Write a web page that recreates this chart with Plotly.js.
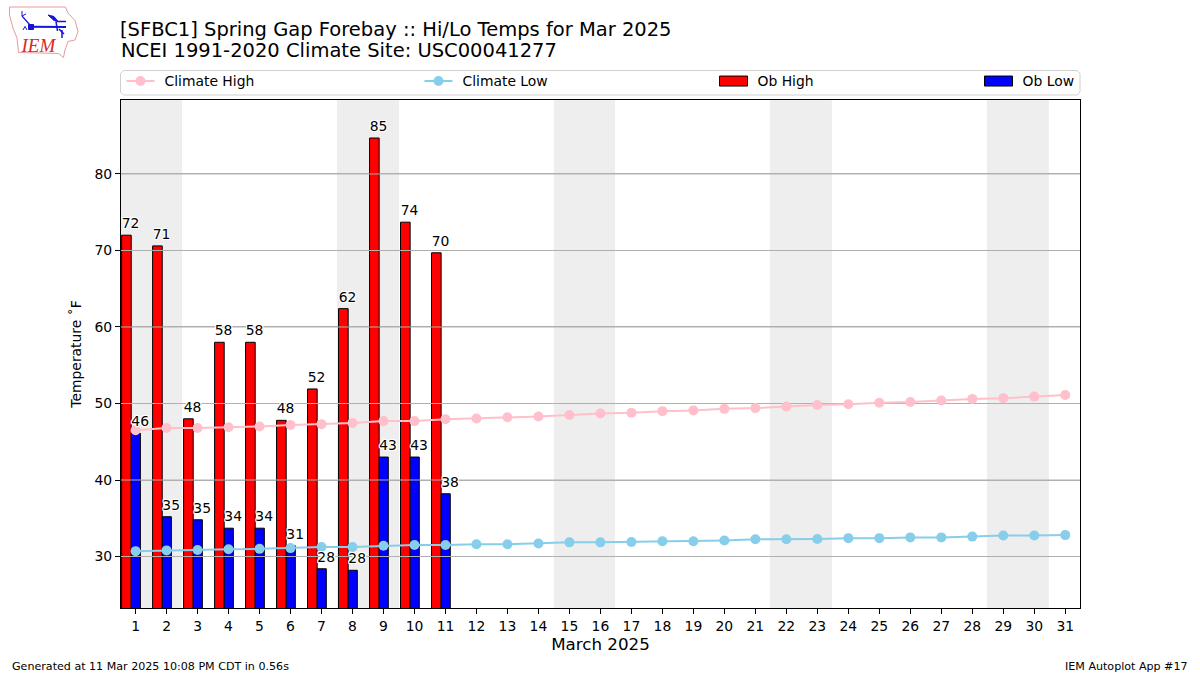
<!DOCTYPE html>
<html>
<head>
<meta charset="utf-8">
<script src="https://cdn.plot.ly/plotly-3.0.1.min.js"></script>
<style>html,body{margin:0;padding:0;background:#fff}</style>
</head>
<body>
<div id="chart" style="width:1200px;height:675px"></div>
<script>
const days = [1,2,3,4,5,6,7,8,9,10,11,12,13,14,15,16,17,18,19,20,21,22,23,24,25,26,27,28,29,30,31];
const climateHigh = [46.5,46.8,46.8,46.9,47.0,47.2,47.3,47.45,47.7,47.7,47.95,48.05,48.2,48.3,48.5,48.7,48.8,49.0,49.1,49.3,49.4,49.6,49.8,49.9,50.1,50.2,50.4,50.6,50.7,50.9,51.1];
const climateLow = [30.7,30.8,30.85,30.95,31.0,31.1,31.25,31.25,31.4,31.5,31.5,31.6,31.6,31.7,31.85,31.85,31.9,32.0,32.0,32.1,32.25,32.25,32.3,32.4,32.4,32.5,32.5,32.6,32.75,32.75,32.8];
const obDays = [1,2,3,4,5,6,7,8,9,10,11];
const obHigh = [72.0,70.6,48.0,58.0,58.0,47.8,51.9,62.4,84.7,73.7,69.7];
const obLow = [46.1,35.2,34.8,33.7,33.7,31.4,28.4,28.2,43.0,43.0,38.2];
const obHighLabels = ["72","71","48","58","58","48","52","62","85","74","70"];
const obLowLabels = ["46","35","35","34","34","31","28","28","43","43","38"];
const weekendSpans = [[0.5,2.5],[7.5,9.5],[14.5,16.47],[21.47,23.47],[28.47,30.47]];
const yTicks = [30,40,50,60,70,80];
const xRange = [0.53,31.475];
const yRange = [23.27,89.67];

const W=1200,H=675,L=121,R=1080,T=100,B=608;
const px=x=>(x-L)/(R-L), py=y=>(B-y)/(B-T);
const FONT='"DejaVu Sans", sans-serif';

function pathOf(pts,close){
  return pts.map((p,i)=>(i?'L':'M')+px(p[0]).toFixed(5)+','+py(p[1]).toFixed(5)).join(' ')+(close?' Z':'');
}
function logoLine(pts,color,w,fill){
  return {type:'path',xref:'paper',yref:'paper',path:pathOf(pts,!!fill),layer:'above',
    line:{color:color,width:w},fillcolor:fill||'rgba(0,0,0,0)'};
}

const gridX=[],gridY=[];
yTicks.forEach(v=>{gridX.push(xRange[0],xRange[1],null);gridY.push(v,v,null);});

const halo='1px 0 0 #fff,-1px 0 0 #fff,0 1px 0 #fff,0 -1px 0 #fff,1px 1px 0 #fff,-1px -1px 0 #fff,1px -1px 0 #fff,-1px 1px 0 #fff';

const traces=[
 {type:'bar',name:'Ob High',x:obDays,y:obHigh,width:0.31,offset:-0.45,legend:'legend3',
  marker:{color:'#ff0000',line:{color:'#000',width:1}}},
 {type:'bar',name:'Ob Low',x:obDays,y:obLow,width:0.295,offset:-0.14,legend:'legend4',
  marker:{color:'#0000ff',line:{color:'#000',width:1}}},
 {type:'scatter',mode:'lines',x:gridX,y:gridY,showlegend:false,hoverinfo:'skip',
  line:{color:'#b0b0b0',width:1}},
 {type:'scatter',mode:'lines+markers',name:'Climate High',x:days,y:climateHigh,legend:'legend',
  line:{color:'#FFC0CB',width:2},marker:{color:'#FFC0CB',size:10}},
 {type:'scatter',mode:'lines+markers',name:'Climate Low',x:days,y:climateLow,legend:'legend2',
  line:{color:'#87CEEB',width:2},marker:{color:'#87CEEB',size:10}},
 {type:'scatter',mode:'markers+text',x:obDays.map(d=>d-0.16),y:obHigh,text:obHighLabels,textposition:'top center',
  marker:{size:4,opacity:0},showlegend:false,hoverinfo:'skip',cliponaxis:false,textfont:{family:FONT,size:13.9,color:'#000',shadow:halo}},
 {type:'scatter',mode:'markers+text',x:obDays.map(d=>d+0.15),y:obLow,text:obLowLabels,textposition:'top center',
  marker:{size:4,opacity:0},showlegend:false,hoverinfo:'skip',cliponaxis:false,textfont:{family:FONT,size:13.9,color:'#000',shadow:halo}}
];

const shapes=weekendSpans.map(s=>({type:'rect',xref:'x',yref:'paper',x0:s[0],x1:s[1],y0:0,y1:1,
  layer:'below',fillcolor:'#eeeeee',line:{width:0}}));
// legend frame
const r=3,fx0=120.5,fx1=1080,fy0=70.5,fy1=95;
shapes.push({type:'path',xref:'paper',yref:'paper',layer:'above',line:{color:'#d0d0d0',width:1},fillcolor:'rgba(0,0,0,0)',
  path:pathOf([[fx0+r,fy0],[fx1-r,fy0],[fx1,fy0+r],[fx1,fy1-r],[fx1-r,fy1],[fx0+r,fy1],[fx0,fy1-r],[fx0,fy0+r]],true)});
// logo
shapes.push(logoLine([[9.5,7],[65.5,7],[68,13],[75,20.5],[78,31.5],[75,40],[68,41.5],[65,50],[63.5,57.5],[58.5,53.5],[18.5,52.5],[17,38],[13,28],[9.5,15]],'#e89a9a',1,'#ffffff'));
shapes.push(logoLine([[31,26.7],[66,27]],'#1414d8',2));
shapes.push(logoLine([[28.5,24.5],[33.5,24.5],[33.5,29.5],[28.5,29.5]],'#1414d8',1,'#1414d8'));
shapes.push(logoLine([[48,15],[54,16.5],[58,21.5],[54,20.5]],'#1414d8',1,'#1414d8'));
shapes.push(logoLine([[57,21.5],[66,21.5]],'#1414d8',1.5));
shapes.push(logoLine([[56,21.5],[57.5,31]],'#1414d8',1.5));
shapes.push(logoLine([[59,29],[64,34]],'#1414d8',1.5));
shapes.push(logoLine([[62,30],[62,38]],'#1414d8',1.5));
shapes.push(logoLine([[22,16],[30,25]],'#1414d8',1.2));
shapes.push(logoLine([[22,11],[22,16],[26,14]],'#1414d8',1));
shapes.push(logoLine([[23,30],[25,26.5],[27,30]],'#1414d8',1));

const legendCommon=(x)=>({orientation:'v',x:px(x),y:py(81.5),xanchor:'left',yanchor:'middle',
  bgcolor:'rgba(0,0,0,0)',borderwidth:0,itemwidth:38,itemclick:false,itemdoubleclick:false,
  font:{family:FONT,size:13.9,color:'#000'}});

const layout={
 width:W,height:H,autosize:false,paper_bgcolor:'#fff',plot_bgcolor:'#fff',barmode:'overlay',
 margin:{l:L,r:W-R,t:T,b:H-B,pad:0},font:{family:FONT,size:13.9,color:'#000'},
 title:{text:'[SFBC1] Spring Gap Forebay :: Hi/Lo Temps for Mar 2025',
  x:120/W,xanchor:'left',xref:'container',y:1-29/H,yref:'container',yanchor:'middle',font:{family:FONT,size:19.5,color:'#000'}},
 xaxis:{type:'linear',range:xRange,tickmode:'array',tickvals:days,ticktext:days.map(String),ticks:'outside',ticklen:5,tickwidth:1,
  tickcolor:'#000',showline:true,linecolor:'#000',linewidth:1,mirror:true,showgrid:false,zeroline:false,
  tickfont:{family:FONT,size:13.9,color:'#000'},
  title:{text:'March 2025',standoff:4,font:{family:FONT,size:16.7,color:'#000'}}},
 yaxis:{type:'linear',range:yRange,tickmode:'array',tickvals:yTicks,ticktext:yTicks.map(String),ticks:'outside',ticklen:5,tickwidth:1,
  tickcolor:'#000',showline:true,linecolor:'#000',linewidth:1,mirror:true,showgrid:true,gridcolor:'#b0b0b0',gridwidth:1,zeroline:false,
  tickfont:{family:FONT,size:13.9,color:'#000'},
  title:{text:'Temperature ˚F',standoff:9,font:{family:FONT,size:13.9,color:'#000'}}},
 legend:legendCommon(116.5),legend2:legendCommon(414.5),legend3:legendCommon(709.5),legend4:legendCommon(974.5),
 shapes:shapes,
 annotations:[
  {text:'NCEI 1991-2020 Climate Site: USC00041277',xref:'paper',yref:'paper',x:px(119),y:py(50.5),xanchor:'left',yanchor:'middle',showarrow:false,
   font:{family:FONT,size:19.5,color:'#000'}},
  {text:'IEM',xref:'paper',yref:'paper',x:px(38),y:py(46),xanchor:'center',yanchor:'middle',showarrow:false,
   font:{family:'"Liberation Serif", serif',size:19,color:'#d82828'}},
  {text:'Generated at 11 Mar 2025 10:08 PM CDT in 0.56s',xref:'paper',yref:'paper',x:px(10),y:py(666.5),xanchor:'left',yanchor:'middle',showarrow:false,
   font:{family:FONT,size:11.1,color:'#000'}},
  {text:'IEM Autoplot App #17',xref:'paper',yref:'paper',x:px(1190),y:py(666.5),xanchor:'right',yanchor:'middle',showarrow:false,
   font:{family:FONT,size:11.1,color:'#000'}}
 ]
};

Plotly.newPlot('chart',traces,layout,{displayModeBar:false}).then(gd=>{
  gd.querySelectorAll('path.legendbar, g.legendpoints path.legendundefined').forEach(p=>{
    p.setAttribute('d','M14,5H-14V-5H14Z');
  });
  gd.querySelectorAll('g.legendlines path').forEach(p=>{
    p.setAttribute('d','M10,0h28');
  });
  gd.querySelectorAll('.annotation-text').forEach(t=>{
    if(t.textContent==='IEM'){t.style.fontStyle='italic';}
  });
});
</script>
</body>
</html>
